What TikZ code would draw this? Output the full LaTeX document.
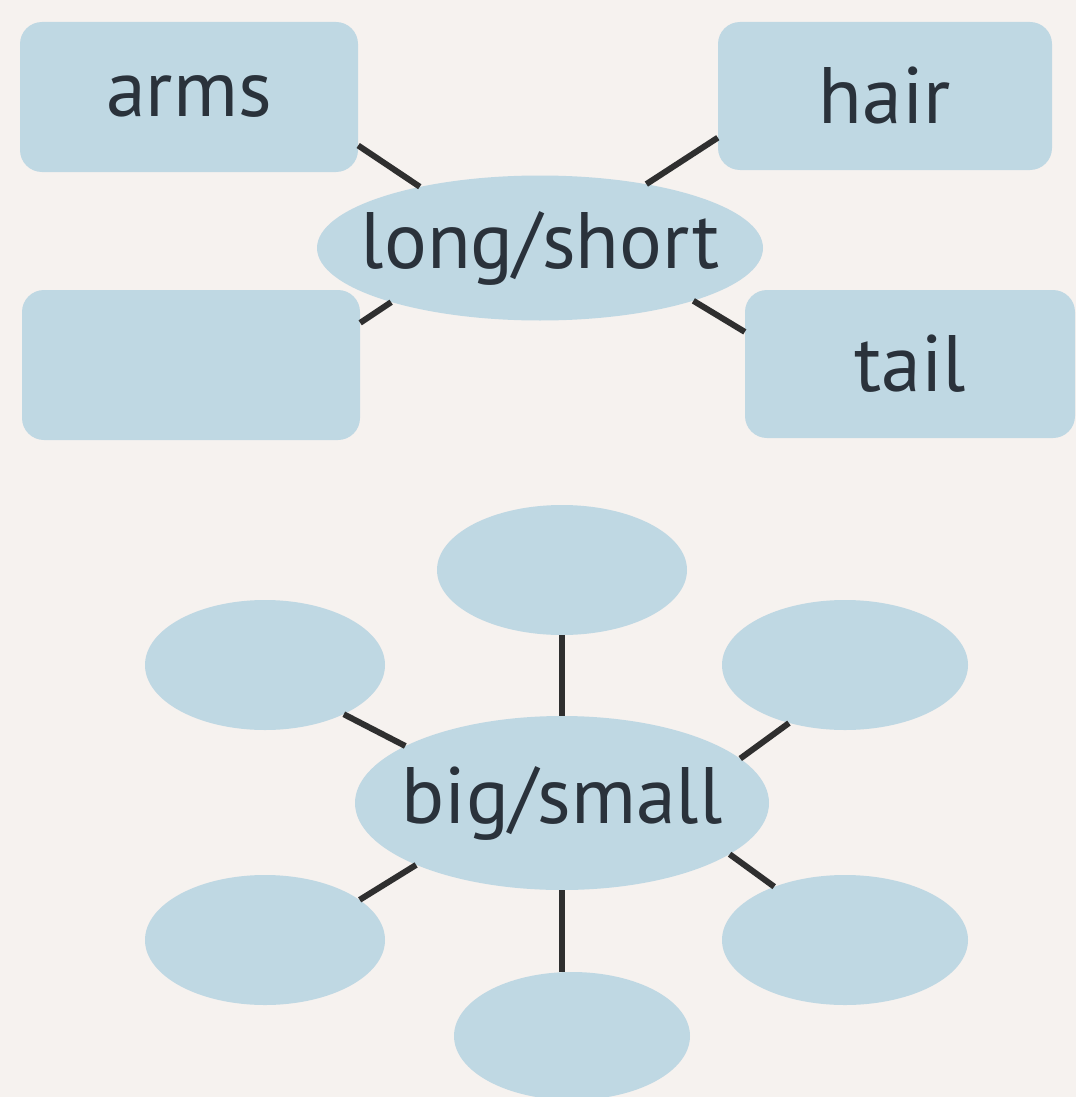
\documentclass[tikz,border=0pt]{standalone}
\usepackage{fontspec}
\setmainfont{PT Sans}
\usetikzlibrary{shapes.geometric}
\definecolor{bg}{HTML}{F6F2EF}
\definecolor{bub}{HTML}{BFD8E3}
\definecolor{ink}{HTML}{2A323B}
\definecolor{wirec}{HTML}{2F2F2F}
\begin{document}
\begin{tikzpicture}[x=1pt,y=-1pt,
  box/.style={rectangle, rounded corners=22pt, fill=bub, inner sep=0pt, text=ink, font=\fontsize{80}{90}\selectfont},
  bubble/.style={ellipse, fill=bub, inner sep=0pt, text=ink, font=\fontsize{80}{90}\selectfont},
  wire/.style={draw=wirec, line width=6pt}]
\fill[bg] (0,0) rectangle (1076,1097);
\useasboundingbox (0,0) rectangle (1076,1097);
% top cluster
\node[box, minimum width=338pt, minimum height=150pt] (arms) at (189,97) {arms};
\node[box, minimum width=338pt, minimum height=150pt] (blank) at (191,365) {};
\node[box, minimum width=334pt, minimum height=148pt] (hair) at (885,96) {hair};
\node[box, minimum width=330pt, minimum height=148pt] (tail) at (910,364) {tail};
\node[bubble, minimum width=446pt, minimum height=145pt] (ls) at (540,248) {\makebox[0pt]{long/short}};
\draw[wire] (arms.-16) -- (ls.153);
\draw[wire] (blank.14) -- (ls.-160);
\draw[wire] (hair.194) -- (ls.31);
\draw[wire] (tail.169) -- (ls.-19.5);
% bottom cluster
\node[bubble, minimum width=414pt, minimum height=174pt] (bs) at (562,803) {\makebox[0pt]{big/small}};
\node[bubble, minimum width=250pt, minimum height=130pt] (top) at (562,570) {};
\node[bubble, minimum width=236pt, minimum height=128pt] (bot) at (572,1036) {};
\node[bubble, minimum width=240pt, minimum height=130pt] (ul) at (265,665) {};
\node[bubble, minimum width=246pt, minimum height=130pt] (ur) at (845,665) {};
\node[bubble, minimum width=240pt, minimum height=130pt] (ll) at (265,940) {};
\node[bubble, minimum width=246pt, minimum height=130pt] (lr) at (845,940) {};
\draw[wire] (top.south) -- (bs.north);
\draw[wire] (bs.south) -- (bs.south |- bot.north);
\draw[wire] (ul.-32.7) -- (bs.160.8);
\draw[wire] (ur.226) -- (bs.14.6);
\draw[wire] (ll.23.5) -- (bs.203.7);
\draw[wire] (lr.143.4) -- (bs.-17.9);
\end{tikzpicture}
\end{document}
